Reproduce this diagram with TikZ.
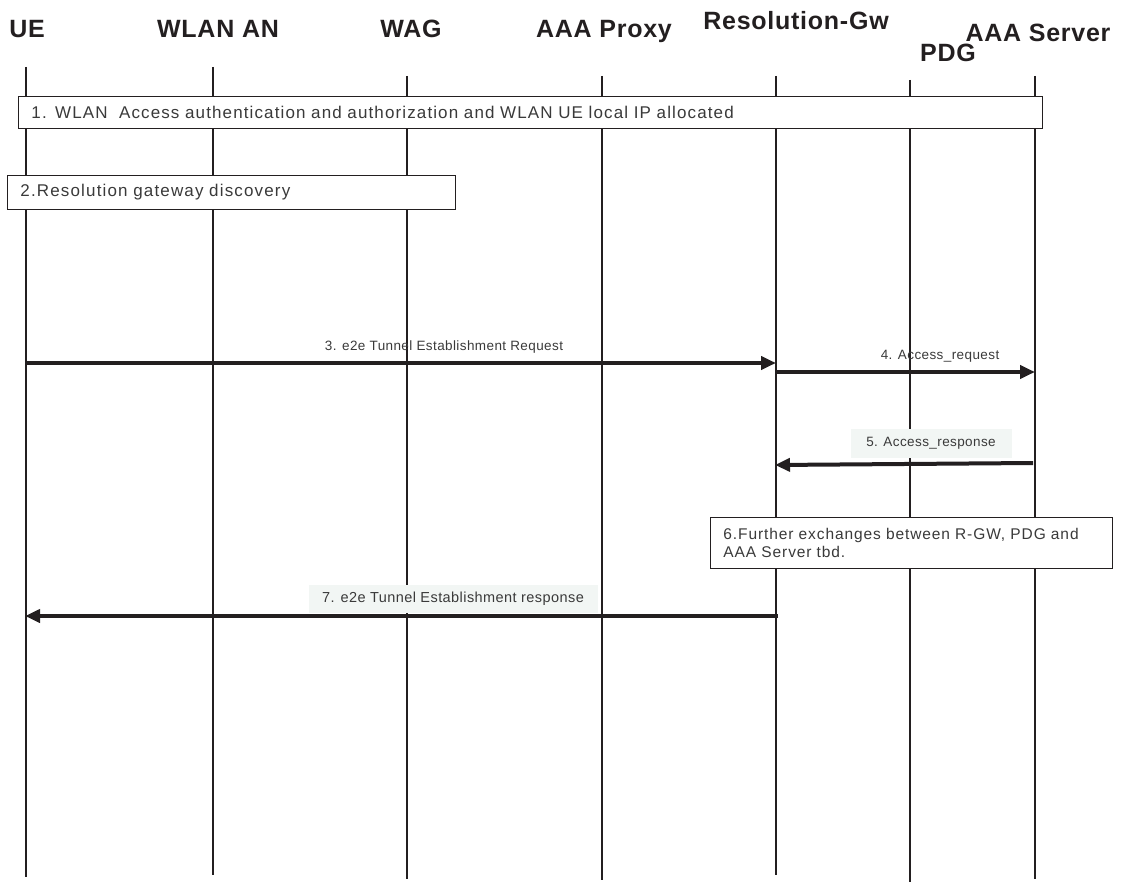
\documentclass[tikz,border=0pt]{standalone}
\usepackage{fontspec}
\setmainfont{Liberation Sans}
\usetikzlibrary{arrows.meta}
\definecolor{ink}{HTML}{231F20}
\definecolor{txt}{HTML}{3A3A3A}
\definecolor{lbg}{HTML}{F2F6F4}
\begin{document}
\begin{tikzpicture}[x=1pt,y=-1pt,
  head/.style={font=\fontsize{25}{25}\selectfont\bfseries\addfontfeature{LetterSpace=3}, text=ink, inner sep=0pt, anchor=base},
  life/.style={draw=ink, line width=1.1pt},
  msgbox/.style={draw=ink, line width=0.9pt, fill=white, inner ysep=0pt, inner xsep=13pt, align=left, anchor=north west, text=txt},
  msg/.style={line width=4pt, draw=ink, -{Triangle[length=15pt,width=13pt]}},
  lab/.style={font=\fontsize{13.5}{15}\selectfont\addfontfeature{LetterSpace=3}, text=txt, inner sep=0pt},
  labbox/.style={lab, fill=lbg, inner xsep=10pt, inner ysep=7pt}
]
\useasboundingbox (0,0) rectangle (1123,882);
% headers
\node[head] (hUE) at (27,38) {UE};
\node[head] (hAN) at (218,38) {WLAN AN};
\node[head] (hWAG) at (411,38) {WAG};
\node[head] (hPX) at (604,38) {AAA Proxy};
\node[head] (hRG) at (796,30) {Resolution-Gw};
\node[head] (hAS) at (1038,42) {AAA Server};
\node[head] (hPDG) at (948,62) {PDG};
% lifelines
\coordinate (ueT) at (26,67);  \coordinate (ueB) at (26,877);
\coordinate (anT) at (213,67); \coordinate (anB) at (213,875);
\coordinate (wgT) at (407,76); \coordinate (wgB) at (407,879);
\coordinate (pxT) at (602,76); \coordinate (pxB) at (602,880);
\coordinate (rgT) at (776,76); \coordinate (rgB) at (776,875);
\coordinate (pdT) at (910,80); \coordinate (pdB) at (910,882);
\coordinate (asT) at (1035,76); \coordinate (asB) at (1035,879);
\foreach \n in {ue,an,wg,px,rg,pd,as} \draw[life] (\n T) -- (\n B);
% box 1
\node[msgbox, minimum height=32pt, text width=998pt, font=\fontsize{17}{19}\selectfont\addfontfeature{LetterSpace=6.6}] (b1) at (18,96)
  {1. WLAN\ \ Access authentication and authorization and WLAN UE local IP allocated};
% box 2
\node[msgbox, minimum height=34pt, text width=422pt, font=\fontsize{17}{19}\selectfont\addfontfeature{LetterSpace=6.8}] (b2) at (7,175)
  {2.Resolution gateway discovery};
% message 3
\coordinate (m3s) at (26,363); \coordinate (m3e) at (776,363);
\draw[msg] (m3s) -- (m3e);
\node[lab] (l3) at (444,347) {3. e2e Tunnel Establishment Request};
% message 4
\coordinate (m4s) at (776,372); \coordinate (m4e) at (1035,372);
\draw[msg] (m4s) -- (m4e);
\node[lab] (l4) at (940,356) {4. Access\_request};
% message 5
\node[labbox, minimum width=161pt, minimum height=29pt] (l5) at (931,443) {5. Access\_response};
\coordinate (m5s) at (1033,463); \coordinate (m5e) at (775,465);
\draw[msg] (m5s) -- (m5e);
% box 6
\node[msgbox, minimum height=51pt, text width=376pt, font=\fontsize{15.5}{18}\selectfont\addfontfeature{LetterSpace=5.8}] (b6) at (710,517)
  {6.Further exchanges between R-GW, PDG and\\AAA Server tbd.};
% message 7
\node[labbox, font=\fontsize{14.5}{16}\selectfont\addfontfeature{LetterSpace=3}, minimum width=289pt, minimum height=27pt] (l7) at (453,599) {7. e2e Tunnel Establishment response};
\coordinate (m7s) at (778,616); \coordinate (m7e) at (25,616);
\draw[msg] (m7s) -- (m7e);
\end{tikzpicture}
\end{document}
